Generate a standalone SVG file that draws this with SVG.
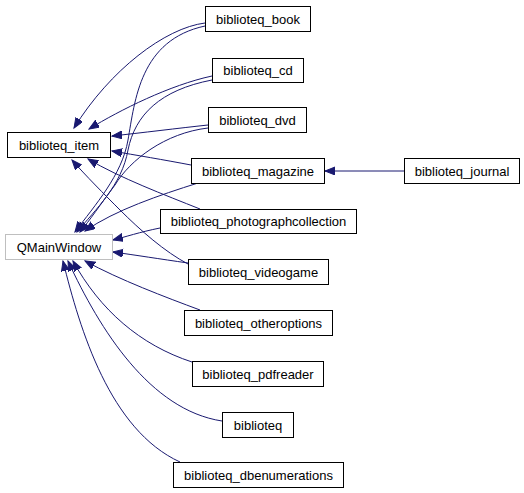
<svg xmlns="http://www.w3.org/2000/svg" width="524" height="493" viewBox="0 0 524 493">
<style>
.n rect{fill:#fff;stroke:#000;stroke-width:1}
.n.g rect{stroke:#bfbfbf}
.n text{font-family:"Liberation Sans",Arial,sans-serif;font-size:13px;text-anchor:middle;fill:#000}
.e path{fill:none;stroke:#191970;stroke-width:1;marker-end:url(#ah)}
</style>
<defs>
<marker id="ah" markerUnits="userSpaceOnUse" markerWidth="13" markerHeight="10" refX="10" refY="4" orient="auto">
<polygon points="0,0 10,4 0,8" fill="#191970" stroke="#191970"/>
</marker>
</defs>
<rect width="524" height="493" fill="#fff"/>
<g id="edges" class="e">
<path d="M205,23 C165,28 110,70 74,128"/>
<path d="M205,26 C140,40 135,100 128,140 C122,175 95,205 75,232"/>
<path d="M212,76 C170,85 120,110 89,129"/>
<path d="M212,80 C160,90 135,115 128,150 C122,185 95,210 77,232"/>
<path d="M208,125 C180,128 140,133 112,136"/>
<path d="M208,128 C165,133 130,160 115,185 C100,205 90,220 80,232"/>
<path d="M191,165 C165,160 135,155 112,151"/>
<path d="M198,183 C160,195 115,210 85,231"/>
<path d="M200,209 C165,195 120,178 88,159"/>
<path d="M160,228 C140,232 125,237 113,240"/>
<path d="M188,264 C165,252 140,230 120,210 C105,195 85,175 72,160"/>
<path d="M188,263 C160,259 135,255 113,252"/>
<path d="M200,310 C165,297 120,280 85,261"/>
<path d="M192,362 C140,345 100,310 73,261"/>
<path d="M222,421 C150,410 100,330 68,261"/>
<path d="M180,462 C110,430 80,330 63,261"/>
<path d="M404,171 L325,171"/>
</g>
<g id="biblioteq_book" class="n"><rect x="205.5" y="6.5" width="105" height="25"/><text x="258" y="23.5">biblioteq_book</text></g>
<g id="biblioteq_cd" class="n"><rect x="212.5" y="58.5" width="91" height="24"/><text x="258" y="75">biblioteq_cd</text></g>
<g id="biblioteq_dvd" class="n"><rect x="208.5" y="107.5" width="98" height="25"/><text x="257.5" y="124.5">biblioteq_dvd</text></g>
<g id="biblioteq_item" class="n"><rect x="7.5" y="132.5" width="103" height="25"/><text x="59" y="149.5">biblioteq_item</text></g>
<g id="biblioteq_magazine" class="n"><rect x="191.5" y="158.5" width="133" height="25"/><text x="258" y="175.5">biblioteq_magazine</text></g>
<g id="biblioteq_journal" class="n"><rect x="404.5" y="158.5" width="115" height="25"/><text x="462" y="175.5">biblioteq_journal</text></g>
<g id="biblioteq_photographcollection" class="n"><rect x="160.5" y="209.5" width="196" height="24"/><text x="258.5" y="226">biblioteq_photographcollection</text></g>
<g id="QMainWindow" class="n g"><rect x="5.5" y="234.5" width="107" height="25"/><text x="59" y="251.5">QMainWindow</text></g>
<g id="biblioteq_videogame" class="n"><rect x="188.5" y="259.5" width="140" height="25"/><text x="258.5" y="276.5">biblioteq_videogame</text></g>
<g id="biblioteq_otheroptions" class="n"><rect x="184.5" y="310.5" width="148" height="25"/><text x="258.5" y="327.5">biblioteq_otheroptions</text></g>
<g id="biblioteq_pdfreader" class="n"><rect x="192.5" y="361.5" width="131" height="25"/><text x="258" y="378.5">biblioteq_pdfreader</text></g>
<g id="biblioteq" class="n"><rect x="222.5" y="412.5" width="71" height="25"/><text x="258" y="429.5">biblioteq</text></g>
<g id="biblioteq_dbenumerations" class="n"><rect x="173.5" y="462.5" width="170" height="25"/><text x="258.5" y="479.5">biblioteq_dbenumerations</text></g>
</svg>
